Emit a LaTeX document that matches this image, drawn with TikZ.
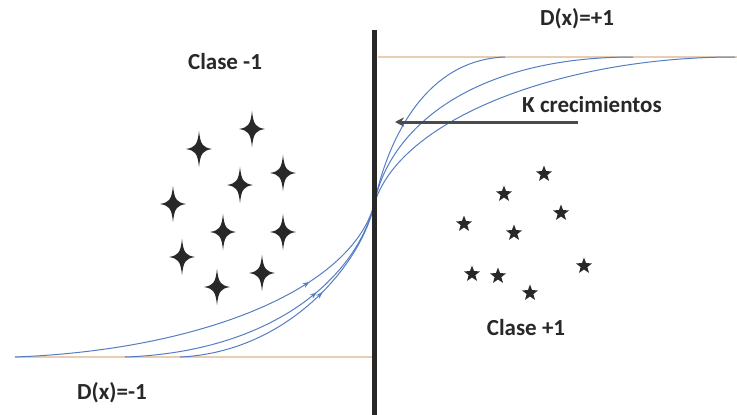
\documentclass[tikz,border=0pt]{standalone}
\usepackage{fontspec}
\setmainfont{Carlito}
\usetikzlibrary{arrows.meta, shapes.geometric, decorations.markings}

\definecolor{curveblue}{RGB}{85,125,195}
\definecolor{levelline}{RGB}{232,205,178}
\definecolor{inkdark}{RGB}{40,40,40}
\definecolor{arrowgray}{RGB}{75,75,75}

\begin{document}
\begin{tikzpicture}[x=1pt, y=-1pt,
    bar/.style={line width=5pt, draw=inkdark},
    level/.style={line width=1.5pt, draw=levelline},
    growth/.style={draw=curveblue, line width=1pt},
    growtharrow/.style={growth, postaction={decorate}, decoration={markings, mark=at position #1 with {\arrow{Stealth[length=7pt, width=5pt]}}}},
    karrow/.style={-{Stealth[length=9pt, width=9pt]}, line width=3pt, draw=arrowgray},
    label/.style={font=\bfseries\fontsize{23}{26}\selectfont, text=inkdark},
    fivestar/.style={star, star points=5, star point ratio=2.4, fill=inkdark, minimum size=17pt, inner sep=0pt},
    fourstar/.pic={\fill[inkdark] (0,-18) .. controls (1.5,-4) and (4,-1.5) .. (13,0) .. controls (4,1.5) and (1.5,4) .. (0,18) .. controls (-1.5,4) and (-4,1.5) .. (-13,0) .. controls (-4,-1.5) and (-1.5,-4) .. (0,-18) -- cycle;
      \fill[inkdark] (0,0) circle (3.5);},
]
\useasboundingbox (0,0) rectangle (737,415);

% Key points
\coordinate (ctr) at (374,205);
\coordinate (bartop) at (374,30);
\coordinate (barbot) at (374,415);
\coordinate (highL) at (378,57);
\coordinate (highR) at (737,57);
\coordinate (lowL) at (15,357);
\coordinate (lowR) at (372,357);

% Levels D(x)=+1 and D(x)=-1
\draw[level] (highL) -- (highR);
\draw[level] (lowL) -- (lowR);

% Growth curves
\coordinate (startA) at (15,357);
\coordinate (endA) at (735,57);
\coordinate (startB) at (125,357);
\coordinate (endB) at (633,57);
\coordinate (startC) at (180,357);
\coordinate (endC) at (505,57);

\draw[growtharrow=0.75] (startA) .. controls (200,350) and (350,290) .. (ctr);
\draw[growth] (ctr) .. controls (398,120) and (560,57) .. (endA);
\draw[growtharrow=0.66] (startB) .. controls (270,352) and (355,280) .. (ctr);
\draw[growth] (ctr) .. controls (388,130) and (470,57) .. (endB);
\draw[growtharrow=0.61] (startC) .. controls (290,352) and (362,262) .. (ctr);
\draw[growth] (ctr) .. controls (385,150) and (420,60) .. (endC);

% Separating line
\draw[bar] (bartop) -- (barbot);

% Class -1 samples
\foreach \sx/\sy [count=\i] in {199/149, 252/129, 240/185, 283/173, 173/204, 223/232, 283/232, 182/257, 262/273, 217/287}
  \pic (minus\i) at (\sx,\sy) {fourstar};

% Class +1 samples
\foreach \sx/\sy [count=\i] in {544/174, 504/194, 561/213, 464/224, 514/233, 584/266, 472/274, 498/276, 530/293}
  \node[fivestar] (plus\i) at (\sx,\sy) {};

% K arrow
\node[label] (klabel) at (592,105) {K crecimientos};
\coordinate (kstart) at (578,122);
\coordinate (ktip) at (395,122);
\draw[karrow] (kstart) -- (ktip);

% Labels
\node[label] (dplus) at (577,19) {D(x)=+1};
\node[label] (dminus) at (112,393) {D(x)=-1};
\node[label] (cminus) at (225,62) {Clase -1};
\node[label] (cplus) at (526,328) {Clase +1};
\end{tikzpicture}
\end{document}
